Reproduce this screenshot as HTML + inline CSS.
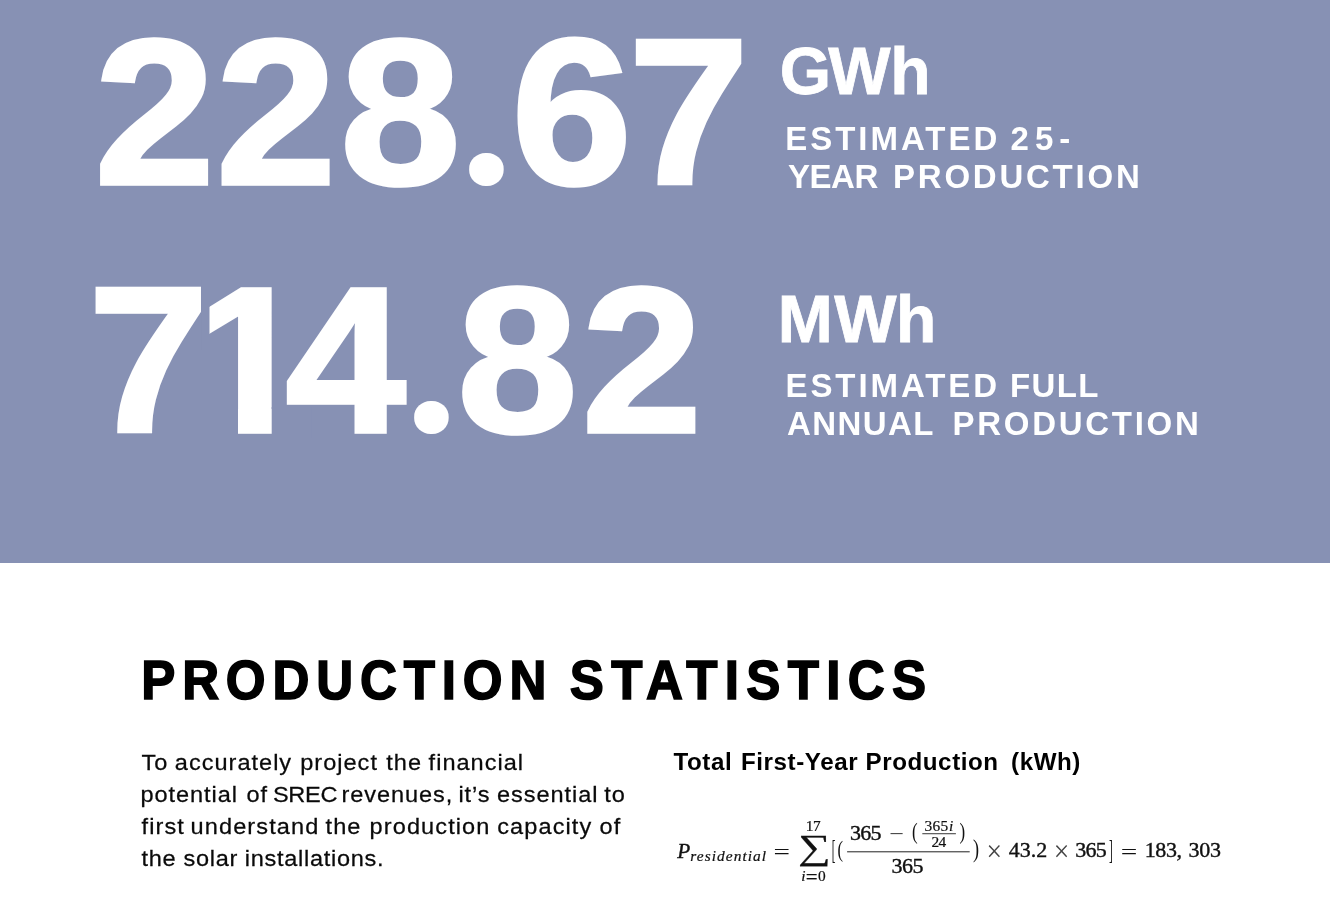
<!DOCTYPE html>
<html lang="en">
<head>
<meta charset="utf-8">
<title>Production Statistics</title>
<style>
  html,body{margin:0;padding:0;}
  body{width:1330px;height:905px;position:relative;overflow:hidden;background:#ffffff;
       font-family:"Liberation Sans",sans-serif;}
  svg{position:absolute;left:0;display:block;}
  svg.hero{top:0;}
  svg.body{top:563px;}
  svg text{font-family:"Liberation Sans",sans-serif;white-space:pre;}
  .big{font-weight:700;font-size:208px;fill:#fff;stroke:#fff;stroke-width:3.7;stroke-linejoin:miter;}
  .dot{font-size:8px;stroke-width:32;stroke-linejoin:round;stroke-linecap:round;}
  .unit{font-weight:700;font-size:66px;fill:#fff;stroke:#fff;stroke-width:0.8;}
  .lab{font-weight:700;font-size:33px;fill:#fff;}
  .h1{font-weight:700;font-size:55px;fill:#000;stroke:#000;stroke-width:1.6;}
  .p{font-size:22px;fill:#0a0a0a;stroke:#0a0a0a;stroke-width:0.25px;}
  .h2{font-weight:700;font-size:23px;fill:#000;}
  svg text.m{font-family:"Liberation Serif",serif;fill:#111;}
  svg text.b{stroke:#111;stroke-width:0.4px;}
  svg text.s{stroke:#111;stroke-width:0.22px;}
  svg text.thin{fill:#444;}
</style>
</head>
<body>
<svg class="hero" width="1330" height="563" viewBox="0 0 1330 563">
<rect width="1330" height="563" fill="#8791b4"/>
<text class="big" transform="scale(1.04,1)" y="183.95"><tspan x="90.94 207.77 327.06">228</tspan><tspan class="dot" x="466.68" y="170.1">.</tspan><tspan x="491.87 604.33" y="183.95">67</tspan></text>
<text class="big" transform="scale(1.04,1)" y="431.55"><tspan x="84.95 182.23 274.56">714</tspan><tspan class="dot" x="413.75" y="417.55">.</tspan><tspan x="439.75 559.35" y="431.55">82</tspan></text>
<rect x="201.2" y="280" width="8.3" height="70" fill="#8791b4"/>
<rect x="200" y="407" width="38" height="31" fill="#8791b4"/>
<rect x="271.7" y="407" width="40" height="31" fill="#8791b4"/>
<text class="unit" x="779.72 828.3 890.18" y="93.7">GWh</text>
<text class="unit" x="777.71 834.2 896.03" y="341.8">MWh</text>
<text class="lab" y="149.9"><tspan x="785.3" letter-spacing="2.964">ESTIMATED</tspan> <tspan x="1010.6" letter-spacing="5.997">25-</tspan></text>
<text class="lab" y="187.9"><tspan x="787.9" letter-spacing="-0.451">YEAR</tspan> <tspan x="893.0" letter-spacing="2.767">PRODUCTION</tspan></text>
<text class="lab" y="397.4"><tspan x="785.5" letter-spacing="2.914">ESTIMATED</tspan> <tspan x="1010.0" letter-spacing="1.384">FULL</tspan></text>
<text class="lab" y="435.2"><tspan x="787.0" letter-spacing="1.408">ANNUAL</tspan> <tspan x="952.5" letter-spacing="2.722">PRODUCTION</tspan></text>
</svg>
<svg class="body" width="1330" height="342" viewBox="0 563 1330 342">
<text class="h1" y="699.1" transform="scale(0.93,1)"><tspan x="151.84" letter-spacing="7.333">PRODUCTION</tspan> <tspan x="612.66" letter-spacing="7.838">STATISTICS</tspan></text>
<text class="p" y="769.8" letter-spacing="0.94" transform="scale(1.07,1)"><tspan x="132.26">To</tspan> <tspan x="163.44">accurately</tspan> <tspan x="280.64">project</tspan> <tspan x="360.99">the</tspan> <tspan x="400.58">financial</tspan></text>
<text class="p" y="801.8" letter-spacing="0.877" transform="scale(1.07,1)"><tspan x="131.26">potential</tspan> <tspan x="230.46">of</tspan> <tspan x="255.13" letter-spacing="-0.3">SREC</tspan> <tspan x="319.18">revenues,</tspan> <tspan x="428.44">it’s</tspan> <tspan x="464.55">essential</tspan> <tspan x="564.66">to</tspan></text>
<text class="p" y="833.9" letter-spacing="1.033" transform="scale(1.07,1)"><tspan x="132.26">first</tspan> <tspan x="178.14">understand</tspan> <tspan x="304.21">the</tspan> <tspan x="345.41">production</tspan> <tspan x="464.72">capacity</tspan> <tspan x="560.29">of</tspan></text>
<text class="p" y="865.8" letter-spacing="0.673" transform="scale(1.07,1)"><tspan x="132.26">the</tspan> <tspan x="171.42">solar</tspan> <tspan x="228.7">installations.</tspan></text>
<text class="h2" y="769.8" letter-spacing="0.551" transform="scale(1.05,1)"><tspan x="641.44">Total</tspan> <tspan x="705.66">First-Year</tspan> <tspan x="824.28">Production</tspan> <tspan x="962.89">(kWh)</tspan></text>
<g class="formula">
<text class="m b" style="font-size:22px;font-style:italic;" transform="translate(677.26,857.5) scale(0.9643,1)">P</text>
<text class="m s" style="font-size:15.4px;font-style:italic;" x="690.3" y="860.6" letter-spacing="1.052">residential</text>
<text class="m" style="font-size:22px;" transform="translate(773.57,859.1039999999999) scale(1.3273,1)">=</text>
<text class="m s" style="font-size:35.34px;" transform="translate(797.7,859.12) scale(1.3,1)">∑</text>
<text class="m s" style="font-size:15.4px;" x="805.8" y="831.4" letter-spacing="-0.395">17</text>
<text class="m s" style="font-size:15.4px" y="881.3"><tspan x="801.3" style="font-style:italic">i</tspan><tspan x="805.8" dy="2.3" style="font-size:21px">=</tspan><tspan x="818" dy="-2.3">0</tspan></text>
<text class="m" style="font-size:26.75px;" transform="translate(831.69,859.33) scale(0.4143,1)">[</text>
<text class="m" style="font-size:24.13px;" transform="translate(837.41,857.49) scale(0.6857,1)">(</text>
<text class="m b" style="font-size:22px;" x="849.9" y="839.5" letter-spacing="-0.75">365</text>
<text class="m thin" style="font-size:22px;" transform="translate(889.32,841.1039999999999) scale(1.1818,1)">−</text>
<text class="m" style="font-size:23.7px;" transform="translate(911.89,839.09) scale(0.7143,1)">(</text>
<text class="m s" style="font-size:15.4px" y="831.1"><tspan x="924.6" letter-spacing="0.2">365</tspan><tspan x="949" style="font-style:italic">i</tspan></text>
<rect x="922.3" y="833.3" width="33.6" height="0.9" fill="#222"/>
<text class="m s" style="font-size:15.4px;" x="931.4" y="846.8" letter-spacing="-0.695">24</text>
<text class="m" style="font-size:23.7px;" transform="translate(959.6,839.09) scale(0.7143,1)">)</text>
<rect x="847.1" y="851.3" width="122.6" height="1" fill="#222"/>
<text class="m b" style="font-size:22px;" x="891.6" y="872.6" letter-spacing="-0.55">365</text>
<text class="m" style="font-size:24.13px;" transform="translate(972.9,857.49) scale(0.7571,1)">)</text>
<text class="m thin" style="font-size:28.52px;" transform="translate(986.47,861.48) scale(0.9667,1)">×</text>
<text class="m b" style="font-size:22px;" x="1008.8" y="857.3" letter-spacing="0.0">43.2</text>
<text class="m thin" style="font-size:28.52px;" transform="translate(1053.87,861.48) scale(0.9667,1)">×</text>
<text class="m b" style="font-size:22px;" x="1075.2" y="857.3" letter-spacing="-0.75">365</text>
<text class="m" style="font-size:26.75px;" transform="translate(1109.0,859.33) scale(0.4286,1)">]</text>
<text class="m" style="font-size:22px;" transform="translate(1120.76,859.1039999999999) scale(1.3364,1)">=</text>
<text class="m b" style="font-size:22px" y="857.3"><tspan x="1144.7" letter-spacing="-0.367">183,</tspan><tspan x="1188.5" letter-spacing="-0.2">303</tspan></text>
</g>
</svg>
</body>
</html>
